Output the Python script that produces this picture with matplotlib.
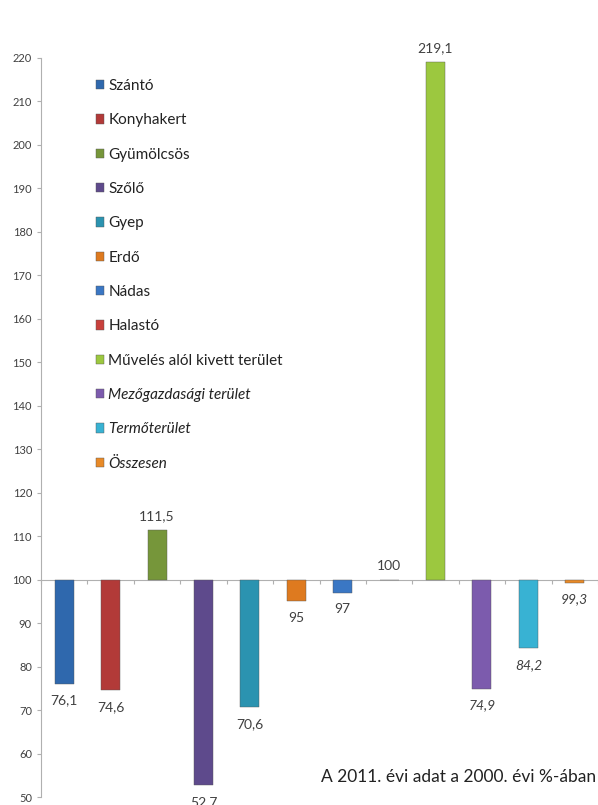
import numpy as np
import matplotlib.pyplot as plt

plt.rcParams['font.family'] = ['Lato', 'DejaVu Sans']

categories = ['Szántó', 'Konyhakert', 'Gyümölcsös', 'Szőlő', 'Gyep', 'Erdő', 'Nádas',
              'Halastó', 'Művelés alól kivett terület', 'Mezőgazdasági terület',
              'Termőterület', 'Összesen']
values = [76.1, 74.6, 111.5, 52.7, 70.6, 95, 97, 100, 219.1, 74.9, 84.2, 99.3]
labels = ['76,1', '74,6', '111,5', '52,7', '70,6', '95', '97', '100', '219,1', '74,9', '84,2', '99,3']
italic = [False] * 9 + [True] * 3
colors = ['#2f68ad', '#b23a38', '#76963a', '#5e4a8c', '#2b93b0', '#de7a1f',
          '#3a77c4', '#c8403c', '#9cc83f', '#7c5bad', '#38b2d3', '#e88a28']

base = 100
fig = plt.figure(figsize=(5.98, 8.05), dpi=100)
ax = fig.add_axes([41 / 598, 8 / 805, 1 - 41 / 598, (797 - 58) / 805])

x = np.arange(len(values))
heights = np.array(values) - base
ax.bar(x, heights, bottom=base, width=0.41, color=colors,
       edgecolor='#555555', linewidth=0.3, zorder=3)

for xi, v, lab, it in zip(x, values, labels, italic):
    off = 10 if v >= base else -12
    ax.annotate(lab, (xi, v), xytext=(0, off), textcoords='offset points',
                ha='center', va='center', fontsize=10, color='#404040',
                style='italic' if it else 'normal', annotation_clip=False)

ax.set_xlim(-0.5, len(values) - 0.5)
ax.set_ylim(50, 220)
ax.set_yticks(np.arange(50, 221, 10))
ax.tick_params(axis='y', labelsize=8, colors='#404040', length=3, color='#b0b0b0')
ax.set_xticks(np.arange(-0.5, len(values), 1))
ax.set_xticklabels([])
ax.tick_params(axis='x', length=3, color='#b0b0b0', direction='out')
ax.spines['bottom'].set_position(('data', base))
ax.spines['bottom'].set_color('#b0b0b0')
ax.spines['left'].set_color('#b0b0b0')
ax.spines['top'].set_visible(False)
ax.spines['right'].set_visible(False)

handles = [plt.Rectangle((0, 0), 1, 1, facecolor=c, edgecolor='#555555', linewidth=0.3)
           for c in colors]
leg = ax.legend(handles, categories, loc='upper left', bbox_to_anchor=(0.074, 0.99),
                frameon=False, fontsize=11, labelspacing=1.33, handlelength=0.55,
                handleheight=0.55, handletextpad=0.25)
for t, it in zip(leg.get_texts(), italic):
    t.set_color('#222222')
    if it:
        t.set_style('italic')

ax.text(0.997, 0.027, 'A 2011. évi adat a 2000. évi %-ában', transform=ax.transAxes,
        ha='right', va='center', fontsize=12.5, color='#222222')

fig.savefig('out.png', dpi=100)
